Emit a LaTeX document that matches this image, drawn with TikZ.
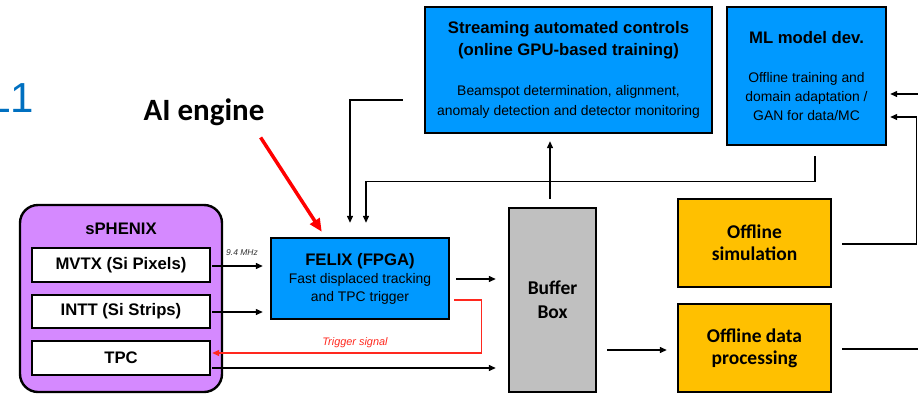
\documentclass[tikz,border=0pt]{standalone}
\usepackage{fontspec}
\setmainfont{Liberation Sans}
\newfontfamily\calibrifont{Carlito}
\usetikzlibrary{arrows.meta,calc}
\definecolor{fblue}{RGB}{0,153,255}
\definecolor{sphpurple}{RGB}{213,137,255}
\definecolor{offorange}{RGB}{255,192,0}
\definecolor{bufgray}{RGB}{192,192,192}
\definecolor{lblue}{RGB}{0,112,192}
\definecolor{trigred}{RGB}{255,40,30}
\newcommand\boldtxt{\bfseries\fontsize{16.7}{22}\selectfont}
\newcommand\regtxt{\fontsize{13.9}{19}\selectfont}
\newcommand\calbold{\calibrifont\bfseries\fontsize{19.5}{22}\selectfont}
\begin{document}
\begin{tikzpicture}[x=1pt,y=-1pt,
  box/.style={draw=black, line width=2.4pt, inner sep=0pt, align=center},
  bluebox/.style={box, fill=fblue},
  whitebox/.style={box, fill=white, minimum width=178pt, minimum height=34pt, font=\boldtxt},
  orangebox/.style={box, fill=offorange, minimum width=153pt, minimum height=88pt, font=\calbold},
  conn/.style={draw=black, line width=1.3pt, -{Triangle[length=7pt,width=6pt]}},
  plain/.style={draw=black, line width=1.3pt},
  trig/.style={draw=trigred, line width=1.3pt, -{Triangle[length=7pt,width=6pt]}}]
\useasboundingbox (0,0) rectangle (918,394);

% texts outside boxes
\node[anchor=base west, inner sep=0pt, text=lblue, font=\fontsize{42}{42}\selectfont] (l1) at (-13,112) {L1};
\node[anchor=base, inner sep=0pt, font=\calibrifont\bfseries\fontsize{31}{31}\selectfont] (ai) at (204,120) {AI engine};

% sPHENIX
\node[box, fill=sphpurple, rounded corners=18pt, minimum width=202pt, minimum height=187pt] (sph) at (121,298.5) {};
\node[font=\boldtxt, inner sep=0pt] (sphtitle) at (121,229) {sPHENIX};
\node[whitebox] (mvtx) at (121,265) {MVTX (Si Pixels)};
\node[whitebox, minimum height=33pt] (intt) at (121,311.5) {INTT (Si Strips)};
\node[whitebox] (tpc) at (121,358) {TPC};

% FELIX
\node[bluebox, minimum width=178pt, minimum height=81pt, font=\regtxt] (felix) at (360,278.5)
  {{\boldtxt FELIX (FPGA)}\\[-1pt] Fast displaced tracking\\[-1pt] and TPC trigger};

% Streaming
\node[bluebox, minimum width=287pt, minimum height=126pt, font=\regtxt] (stream) at (568.5,70)
  {{\boldtxt Streaming automated controls}\\[3pt] {\boldtxt (online GPU-based training)}\\[21pt]
   Beamspot determination, alignment,\\[1pt] anomaly detection and detector monitoring};

% ML
\node[bluebox, minimum width=159pt, minimum height=138pt, font=\regtxt] (ml) at (806.5,76)
  {{\boldtxt ML model dev.}\\[20pt] Offline training and\\ domain adaptation /\\ GAN for data/MC};

% Buffer
\node[box, fill=bufgray, minimum width=87pt, minimum height=184pt, font=\calbold] (buffer) at (552.5,300) {Buffer\\[2pt] Box};

% Offline
\node[orangebox] (offsim) at (754.5,243) {Offline\\ simulation};
\node[orangebox] (offdata) at (754.5,348) {Offline data\\ processing};

% connectors
\draw[conn] ($(mvtx.east)+(1,1)$) -- ($(felix.west)+(-7,-12.5)$);
\node[inner sep=0pt, font=\itshape\fontsize{8.5}{8.5}\selectfont, text=black!80] (mhz) at (242,253) {9.4 MHz};
\draw[conn] ($(intt.east)+(1,0.5)$) -- ($(felix.west)+(-7,33.5)$);
\draw[conn] ($(felix.east)+(6,0.5)$) -- ($(buffer.west)+(-12,-21)$);
\draw[conn] ($(tpc.east)+(1,10)$) -- ($(buffer.west)+(-12,68)$);
\draw[trig] ($(felix.east)+(4,21.5)$) -- ++(27,0) |- ($(tpc.east)+(1,-5)$);
\node[inner sep=0pt, text=trigred, font=\itshape\fontsize{10.9}{11}\selectfont] (trigl) at (355,343) {Trigger signal};

\coordinate (f1) at ($(felix.north)+(-10,-14)$);
\coordinate (f2) at ($(felix.north)+(6,-14)$);
\draw[conn] ($(stream.west)+(-21,30)$) -| (f1);
\draw[conn] ($(ml.south)+(8.5,10)$) -- ++(0,25) -| (f2);
\draw[conn] ($(buffer.north)+(-2.5,-8)$) -- ($(stream.south)+(-18.5,7)$);

\coordinate (rin) at (918,94);
\coordinate (rout) at (918,349);
\draw[conn] (rin) -- ($(ml.east)+(3,18)$);
\draw[conn] ($(offsim.east)+(10,1)$) -- ++(74,0) |- ($(ml.east)+(3,41)$);
\draw[conn] ($(buffer.east)+(10,50)$) -- ($(offdata.west)+(-10,2)$);
\draw[plain] ($(offdata.east)+(10,1)$) -- (rout);

% AI engine arrow
\coordinate (ais) at ($(ai.south east)+(-4,12)$);
\coordinate (aie) at ($(felix.north west)+(52,-5)$);
\draw[draw=red, line width=3.5pt, -{Triangle[length=13pt,width=11pt]}] (ais) -- (aie);
\end{tikzpicture}
\end{document}
